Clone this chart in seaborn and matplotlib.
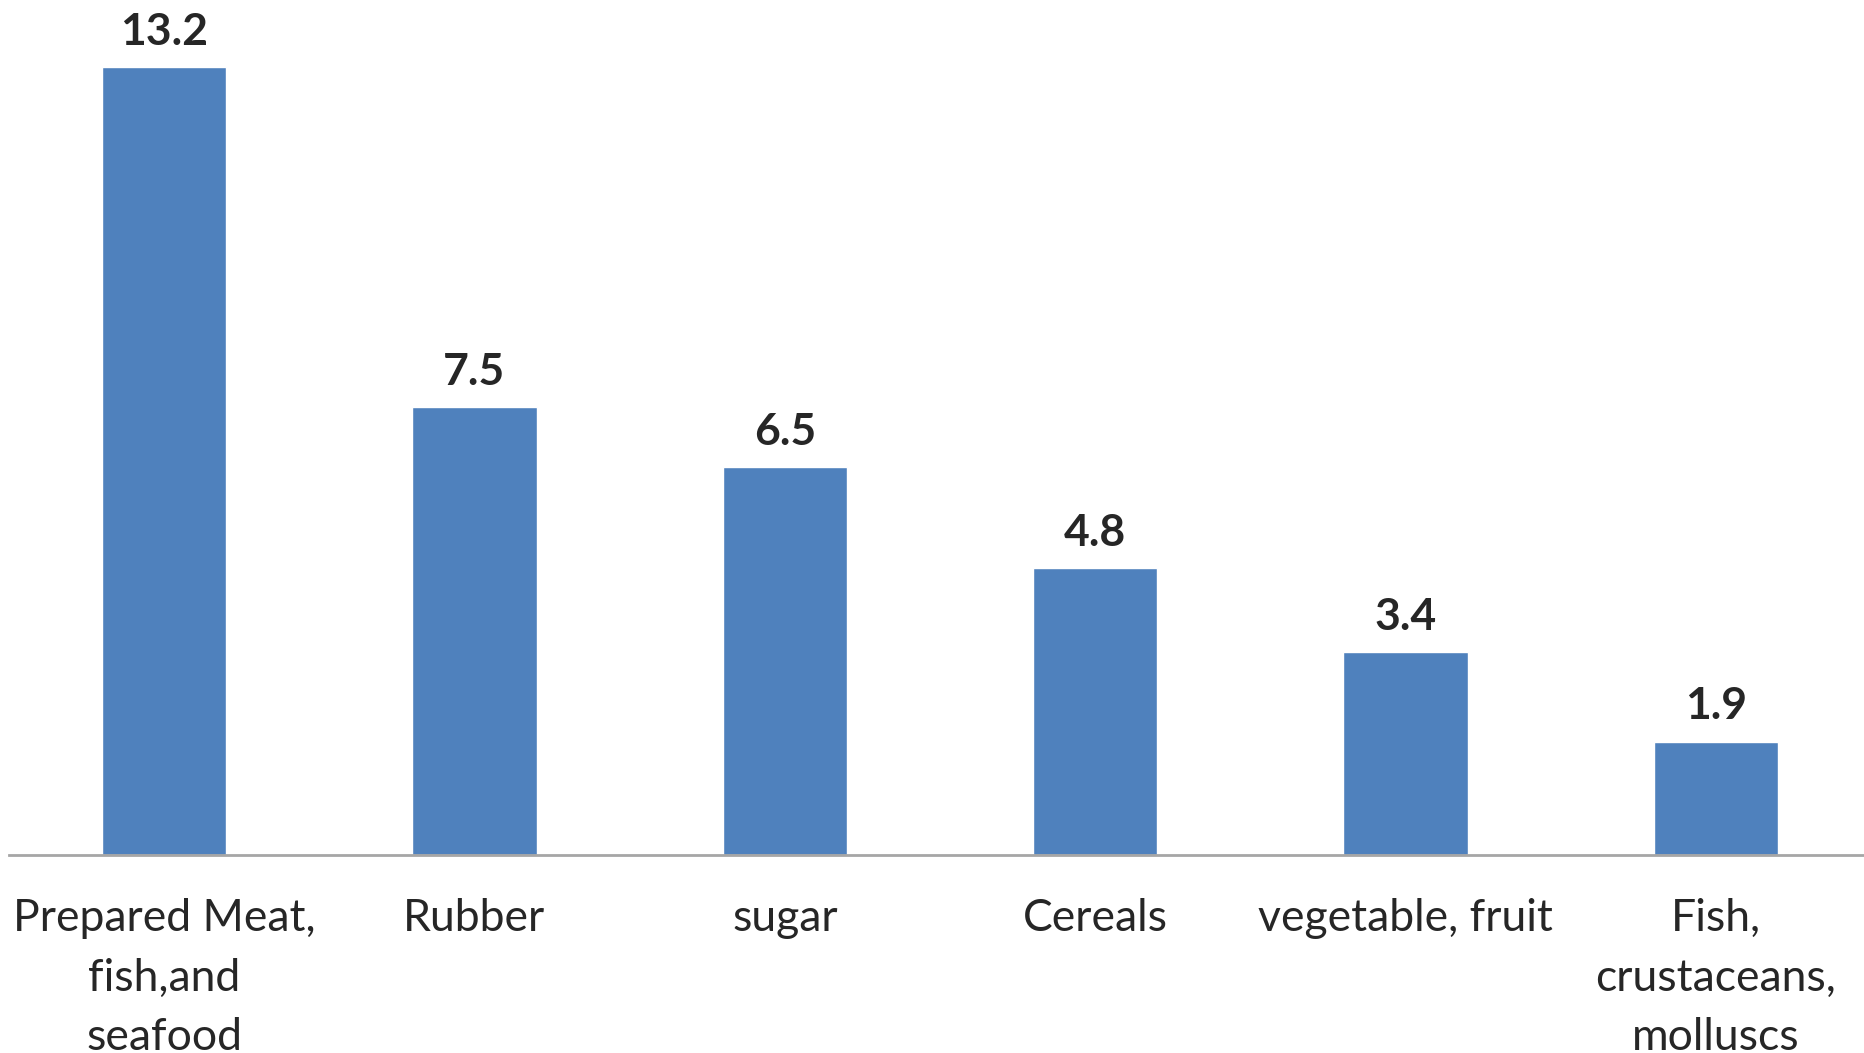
import pandas as pd
import seaborn as sns
import matplotlib.pyplot as plt

# === Data ===
categories = ['Prepared Meat,\nfish,and\nseafood', 'Rubber', 'sugar', 'Cereals',
              'vegetable, fruit', 'Fish,\ncrustaceans,\nmolluscs']
values = [13.2, 7.5, 6.5, 4.8, 3.4, 1.9]
df = pd.DataFrame({'category': categories, 'value': values})

sns.set_style('white')
plt.rcParams['font.family'] = ['Lato', 'DejaVu Sans']

fig = plt.figure(figsize=(18.64, 10.53), dpi=100)
# axes runs slightly past the right edge, like the source chart
ax = fig.add_axes([9 / 1864, 1 - 855 / 1053, 1862 / 1864, 833 / 1053])

sns.barplot(data=df, x='category', y='value', color='#4f81bd', saturation=1,
            width=0.4, ax=ax)

# value labels
for c in ax.containers:
    ax.bar_label(c, fmt='%.1f', padding=11, fontsize=32, fontweight='bold')

ax.set_ylim(0, 13.95)
ax.set_xlim(-0.5, 5.5)
ax.set_xlabel('')
ax.set_ylabel('')
ax.set_yticks([])
ax.tick_params(axis='x', length=0, pad=31, labelsize=32)
for lbl in ax.get_xticklabels():
    lbl.set_linespacing(1.56)
    lbl.set_multialignment('center')

for s in ['top', 'right', 'left']:
    ax.spines[s].set_visible(False)
ax.spines['bottom'].set_color('#a6a6a6')
ax.spines['bottom'].set_linewidth(2)

fig.savefig('out.png', dpi=100)
